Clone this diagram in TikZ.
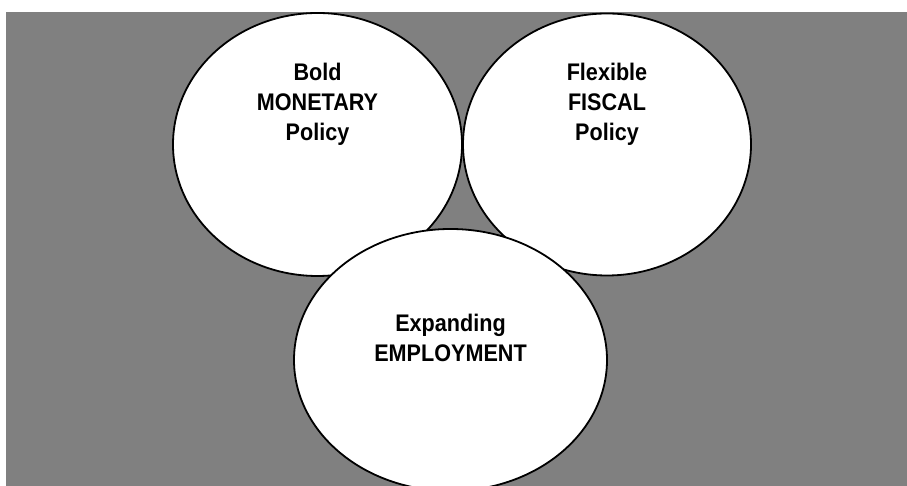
\documentclass[tikz,border=0pt]{standalone}
\usepackage{fontspec}
\setmainfont{Liberation Sans}
\newfontfamily\narrowsans[FakeStretch=0.9]{Liberation Sans}
\usetikzlibrary{shapes.geometric,positioning}
\definecolor{backgray}{RGB}{128,128,128}
\tikzset{
  circ/.style={ellipse,draw=black,fill=white,line width=1.8pt,inner sep=0pt},
  caption/.style={align=center,font=\narrowsans\bfseries\fontsize{24}{30}\selectfont,inner sep=0pt}
}
\begin{document}
\begin{tikzpicture}[x=1pt,y=1pt]
		\useasboundingbox (0,0) rectangle (907,486);
		\clip (0,0) rectangle (907,486);
		\coordinate (BG0) at (6,0);
		\coordinate (BG1) at (907,474);
		\fill[backgray] (BG0) rectangle (BG1);
		% the three circles
		\node[circ,minimum width=289pt,minimum height=263pt] (monetary) at (317.5,341.5) {};
		\node[circ,minimum width=288pt,minimum height=262pt] (fiscal) at (607,341.5) {};
		\node[circ,minimum width=313pt,minimum height=262pt] (employment) at (450.5,126) {};
		\node[caption] (monetarytext) at ([yshift=40pt]monetary.center) {Bold\\MONETARY\\Policy};
		\node[caption] (fiscaltext) at ([yshift=40pt]fiscal.center) {Flexible\\FISCAL\\Policy};
		\node[caption] (employmenttext) at ([yshift=22pt]employment.center) {Expanding\\EMPLOYMENT};
	    \end{tikzpicture}
\end{document}
